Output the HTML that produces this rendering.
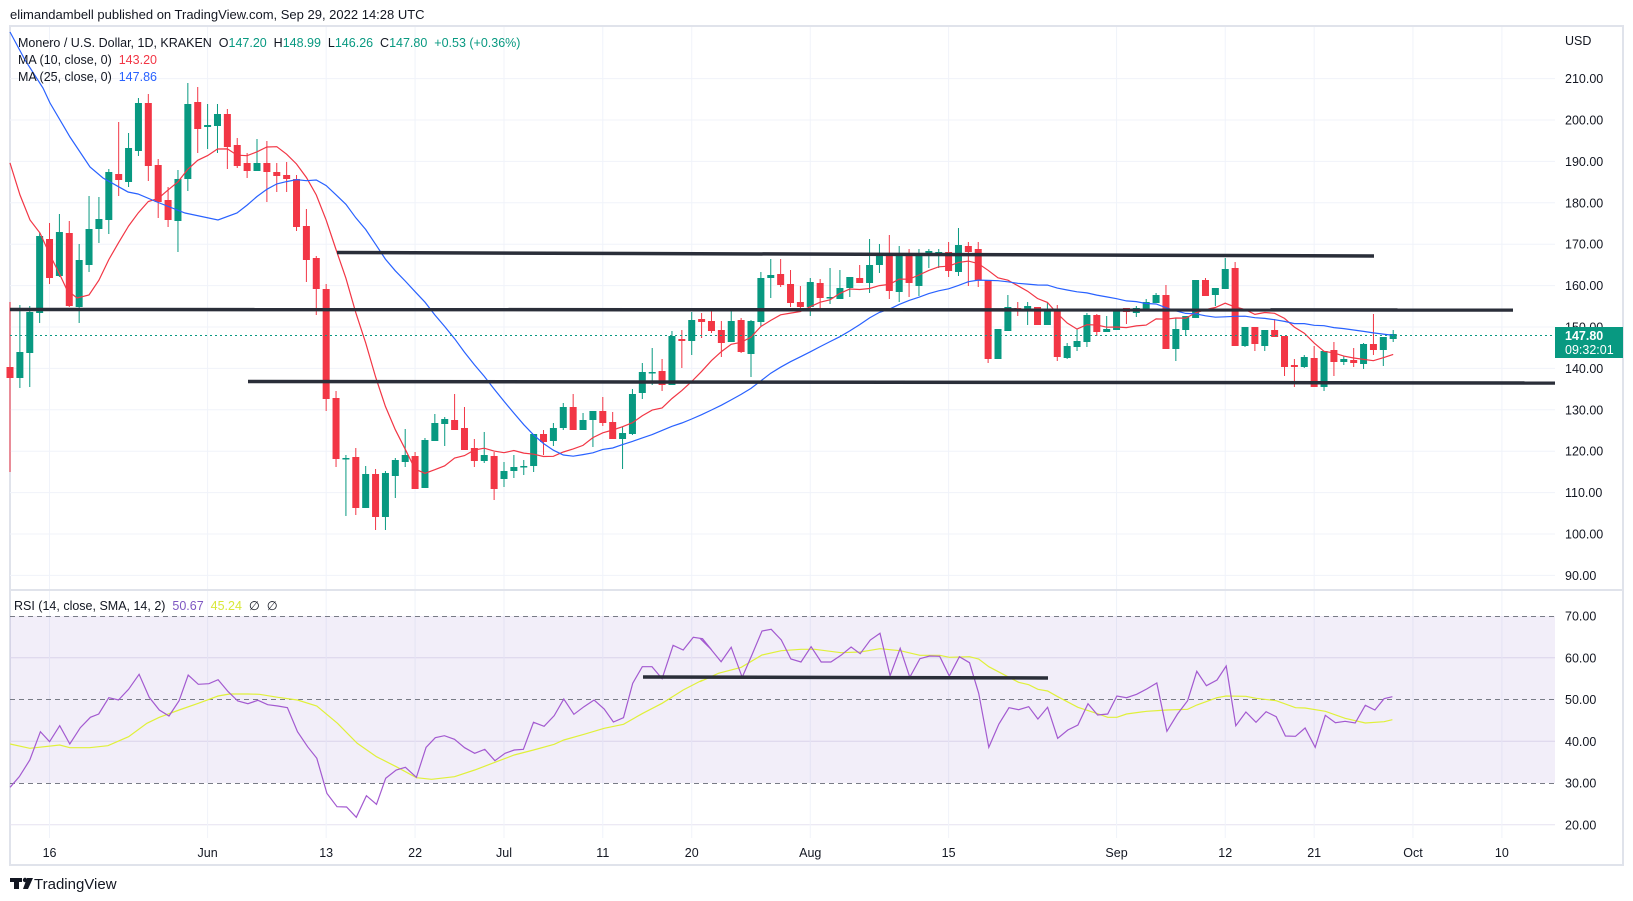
<!DOCTYPE html>
<html><head><meta charset="utf-8">
<style>
html,body{margin:0;padding:0;background:#fff;}
svg{display:block;font-family:"Liberation Sans",sans-serif;}
svg text{white-space:pre;}
</style></head>
<body>
<svg id="s" width="1633" height="901" viewBox="0 0 1633 901" xmlns="http://www.w3.org/2000/svg">
<rect width="1633" height="901" fill="#fff"/>
<text x="10" y="19" font-size="13" fill="#131722">elimandambell published on TradingView.com, Sep 29, 2022 14:28 UTC</text>
<rect x="10" y="26" width="1613" height="839" fill="#fff" stroke="#e0e3eb" stroke-width="2"/>
<g id="grid"></g>
<rect x="10" y="616" width="1545" height="167" fill="#7e57c2" fill-opacity="0.1"/>
<g stroke="#787b86" stroke-width="1" stroke-dasharray="5 4">
<line x1="10" x2="1555" y1="616.5" y2="616.5"/>
<line x1="10" x2="1555" y1="699.5" y2="699.5"/>
<line x1="10" x2="1555" y1="783.5" y2="783.5"/>
</g>
<line x1="10" x2="1623" y1="590" y2="590" stroke="#e0e3eb" stroke-width="2"/>
<g id="candles"></g>
<g id="lines"></g>
<line x1="10" x2="1555" y1="335.5" y2="335.5" stroke="#089981" stroke-width="1" stroke-dasharray="2 3"/>
<g stroke="#2a2e39" stroke-width="3.5" stroke-linecap="butt">
<line x1="337" y1="252.5" x2="1374" y2="256"/>
<line x1="10" y1="309.5" x2="1513" y2="310"/>
<line x1="248" y1="381.5" x2="1555" y2="383"/>
<line x1="643" y1="677" x2="1048" y2="678"/>
</g>
<g id="labels" font-size="12.5" fill="#131722"></g>
<rect x="1555" y="327" width="68" height="31" fill="#089981"/>
<text x="1565" y="340" font-size="12.5" font-weight="bold" fill="#fff">147.80</text>
<text x="1565" y="354" font-size="12.5" fill="#fff">09:32:01</text>
<text x="18" y="47" font-size="12.5" fill="#131722" xml:space="preserve">Monero / U.S. Dollar, 1D, KRAKEN  O<tspan fill="#089981">147.20</tspan>  H<tspan fill="#089981">148.99</tspan>  L<tspan fill="#089981">146.26</tspan>  C<tspan fill="#089981">147.80</tspan>  <tspan fill="#089981">+0.53 (+0.36%)</tspan></text>
<text x="18" y="64" font-size="12.5" fill="#131722" xml:space="preserve">MA (10, close, 0)  <tspan fill="#f23645">143.20</tspan></text>
<text x="18" y="81" font-size="12.5" fill="#131722" xml:space="preserve">MA (25, close, 0)  <tspan fill="#2962ff">147.86</tspan></text>
<text x="14" y="610" font-size="12.5" fill="#131722" xml:space="preserve">RSI (14, close, SMA, 14, 2)  <tspan fill="#7e57c2">50.67</tspan>  <tspan fill="#d9e83a">45.24</tspan>  ∅  ∅</text>
<g fill="#131722"><rect x="10" y="878" width="12" height="4"/><rect x="14" y="878" width="5" height="11"/><circle cx="25" cy="880" r="2.2"/><polygon points="27,878 33,878 28,889 23,889"/></g>
<text x="34" y="889" font-size="15" fill="#131722">TradingView</text>
</svg>
<script>
const NS="http://www.w3.org/2000/svg";
function el(p,t,a){const e=document.createElementNS(NS,t);for(const k in a)e.setAttribute(k,a[k]);p.appendChild(e);return e;}
const X=i=>10+i*9.88;
const Y=p=>327-(p-150)*4.14;
const RY=r=>783-(r-30)*4.175;
const grid=document.getElementById('grid');
for(let p=90;p<=210;p+=10){el(grid,'line',{x1:10,x2:1555,y1:Y(p),y2:Y(p),stroke:'#f0f3fa','stroke-width':1});}
[20,40,60].forEach(r=>el(grid,'line',{x1:10,x2:1555,y1:RY(r),y2:RY(r),stroke:'#e6e2f0','stroke-width':1}));
const dates=[[4,'16'],[20,'Jun'],[32,'13'],[41,'22'],[50,'Jul'],[60,'11'],[69,'20'],[81,'Aug'],[95,'15'],[112,'Sep'],[123,'12'],[132,'21'],[142,'Oct'],[151,'10']];
const lab=document.getElementById('labels');
dates.forEach(([i,t])=>{const x=X(i);el(grid,'line',{x1:x,x2:x,y1:27,y2:838,stroke:'#f0f3fa','stroke-width':1});
 const tx=el(lab,'text',{x:x,y:857,'text-anchor':'middle'});tx.textContent=t;});
for(let p=90;p<=210;p+=10){const t=el(lab,'text',{x:1565,y:Y(p)+4.5});t.textContent=p.toFixed(2);}
for(let r=20;r<=70;r+=10){const t=el(lab,'text',{x:1565,y:RY(r)+4.5});t.textContent=r.toFixed(2);}
{const t=el(lab,'text',{x:1565,y:45});t.textContent='USD';}
const C=`r 367 378 302 472
g 352 378 305 388
g 312 353 306 387
g 236 313 233 323
r 239 278 223 284
g 232 276 214 277
r 233 306 221 307
g 260 307 244 323
g 229 265 196 272
g 219 229 197 243
g 172 220 169 234
r 174 180 122 196
g 148 182 133 187
g 103 151 98 156
r 103 166 94 181
r 165 202 159 218
r 200 220 187 227
g 179 221 170 252
g 104 179 83 191
r 102 129 87 153
g 125 127 104 149
g 114 126 104 153
r 114 147 109 169
r 145 166 138 168
r 163 171 153 178
g 163 171 139 171
r 163 172 141 202
r 172 176 163 192
r 175 179 162 192
r 179 227 175 231
r 226 260 209 282
r 258 289 256 315
r 289 399 284 411
r 398 459 391 467
g 458 459 455 516
r 457 508 448 515
g 474 508 466 508
r 474 517 469 530
g 473 517 471 530
g 460 476 458 498
g 455 462 429 467
r 456 489 452 489
g 440 488 438 488
g 423 441 414 441
g 419 424 417 446
r 420 430 394 430
r 428 450 407 450
r 448 461 439 467
g 455 461 432 463
r 456 489 452 500
g 471 479 462 487
g 467 471 455 478
g 466 467 460 475
g 434 466 434 472
r 434 442 430 455
g 428 441 423 446
g 407 428 403 430
r 407 430 394 430
g 420 430 413 430
g 411 420 411 447
r 411 423 397 426
r 422 439 412 439
g 433 439 427 469
g 394 434 389 435
g 372 393 363 399
g 372 373 348 385
r 371 385 359 391
g 336 385 331 385
r 339 341 330 368
g 320 341 312 355
r 319 322 313 338
r 321 331 311 333
r 330 343 321 357
g 321 342 311 342
r 320 352 318 353
g 321 354 320 377
g 278 322 272 326
g 275 278 259 298
r 274 285 259 287
r 284 303 270 307
r 302 307 286 310
g 282 307 278 316
r 283 298 279 309
g 297 298 268 304
g 288 299 270 299
g 277 288 277 297
r 278 283 265 283
g 265 283 239 293
g 256 265 244 273
r 256 291 235 299
g 254 292 246 302
r 254 283 249 297
g 256 286 249 296
g 251 256 249 268
g 252 253 249 268
r 252 271 242 277
g 245 272 228 276
r 246 252 242 286
r 249 280 242 287
r 280 359 280 363
g 329 359 329 359
g 307 331 295 331
r 308 311 302 316
g 306 311 302 325
r 307 325 307 325
g 310 325 303 325
r 310 357 305 361
g 346 358 343 359
g 341 347 329 351
g 315 342 313 347
r 315 332 314 336
g 329 332 316 332
g 309 330 309 330
r 308 312 308 324
g 308 313 306 317
g 302 309 299 309
g 295 303 293 303
r 295 349 285 349
g 329 349 318 361
g 316 330 316 335
g 280 318 280 318
r 280 296 278 296
g 288 295 288 306
g 269 289 258 289
r 268 346 262 346
g 327 346 327 347
r 327 344 327 351
g 330 346 330 351
r 330 337 319 337
r 336 367 336 376
r 365 367 359 387
g 357 367 355 368
r 358 387 346 387
g 351 387 351 391
r 350 362 342 376
g 359 362 356 365
r 360 363 348 367
g 344 364 343 369
r 344 350 314 355
g 337 350 337 366
g 334 339 330 342`.split('\n').map(l=>{const a=l.trim().split(/\s+/);return [a[0],+a[1],+a[2],+a[3],+a[4]];});
const cg=document.getElementById('candles');
const closes=[];
C.forEach((c,i)=>{const x=X(i);const col=c[0]=='g'?'#089981':'#f23645';
 el(cg,'line',{x1:x,x2:x,y1:Math.min(c[3],c[1]),y2:Math.max(c[4],c[2]),stroke:col,'stroke-width':1});
 el(cg,'rect',{x:x-3.5,y:c[1],width:7,height:Math.max(1.5,c[2]-c[1]),fill:col});
 closes.push(c[0]=='g'?c[1]:c[2]);});
function ma(n,i){let s=0;for(let k=i-n+1;k<=i;k++)s+=closes[k];return s/n;}
const lg=document.getElementById('lines');
let p10=[[10,163],[20,195],[30,220],[40,233],[50,255],[60,275],[67,290],[77,298],[89,295]];
for(let i=9;i<C.length;i++)p10.push([X(i),ma(10,i)]);
let p25=[[10,32],[25,60],[43,88],[50,103],[70,137],[90,167],[103,178],[128,192],[138,194],[157,202],[185,213],[218,220],[237,213]];
for(let i=24;i<C.length;i++)p25.push([X(i),ma(25,i)]);
const pl=p=>p.map(q=>q[0].toFixed(1)+','+q[1].toFixed(1)).join(' ');
el(lg,'polyline',{points:pl(p10),fill:'none',stroke:'#f23645','stroke-width':1.2});
el(lg,'polyline',{points:pl(p25),fill:'none',stroke:'#2962ff','stroke-width':1.2});
const r6=[[22,592],[42,560],[65,510],[88,425],[108,455],[130,407],[152,462],[175,413],[197,382],[215,372],[237,323],[258,330],[280,298],[303,253],[325,322],[347,360],[368,378],[390,332],[410,255],[432,283],[455,281],[475,269],[497,305],[518,333],[540,341],[562,331],[583,344],[605,348],[626,353],[648,425],[670,470],[690,505],[712,610],[734,650],[755,651],[776,682],[798,617],[820,643],[840,565],[863,540],[883,532],[907,562],[928,472],[948,443],[968,437],[990,448],[1012,473],[1034,490],[1056,478],[1078,512],[1100,490],[1120,480],[1140,478],[1162,397],[1185,409],[1207,377],[1228,327],[1250,373],[1272,350],[1294,330],[1316,357],[1336,396],[1358,383],[1378,280],[1399,230],[1420,230],[1442,266],[1466,166],[1488,180],[1510,142],[1530,146],[1550,180]];
const r7=[[0,145],[22,175],[46,215],[68,172],[92,262],[113,195],[135,123],[155,118],[177,150],[198,207],[220,216],[242,170],[264,216],[285,216],[307,196],[329,171],[349,191],[371,150],[392,130],[414,257],[436,175],[457,262],[479,206],[500,198],[522,199],[543,258],[565,200],[587,218],[607,310],[629,472],[651,402],[673,353],[694,359],[716,350],[736,387],[757,352],[779,445],[801,420],[823,405],[845,341],[866,375],[888,372],[908,318],[929,323],[951,313],[973,297],[995,279],[1017,424],[1040,372],[1062,332],[1082,244],[1103,287],[1126,270],[1146,228],[1167,407],[1189,366],[1211,397],[1233,365],[1255,380],[1275,438],[1297,439],[1318,414],[1340,472],[1362,376],[1384,398],[1405,394],[1427,399],[1449,346],[1470,360],[1490,326],[1508,320]];
const y6=[[22,462],[65,475],[130,465],[152,473],[195,473],[235,467],[280,440],[320,400],[347,382],[390,360],[432,340],[475,318],[500,312],[540,312],[565,313],[605,322],[648,330],[690,348],[735,400],[778,460],[820,500],[863,530],[907,563],[940,568],[990,560],[1034,540],[1078,517],[1120,495],[1162,480],[1207,463],[1228,450],[1272,433],[1316,415],[1358,403],[1400,370],[1442,340],[1488,300],[1530,270]];
const y7=[[0,275],[40,250],[90,232],[135,195],[177,182],[220,178],[250,178],[307,188],[349,186],[392,176],[436,182],[479,196],[522,196],[543,202],[587,200],[607,207],[629,230],[673,262],[694,277],[716,284],[736,298],[757,303],[779,320],[823,352],[866,371],[888,382],[908,382],[929,372],[973,364],[1017,360],[1062,358],[1082,345],[1126,323],[1146,318],[1189,319],[1211,325],[1255,332],[1297,353],[1318,354],[1362,364],[1405,385],[1449,399],[1490,395],[1508,389]];
const conv=(a,off)=>a.map(q=>[off+q[0]/2.178,590+q[1]/3]);
el(lg,'polyline',{points:pl(conv(y6,0).concat(conv(y7,700))),fill:'none',stroke:'#e0f03a','stroke-width':1.2});
el(lg,'polyline',{points:pl(conv(r6,0).concat(conv(r7,700))),fill:'none',stroke:'#a35ad0','stroke-width':1.2});
</script>
</body></html>
